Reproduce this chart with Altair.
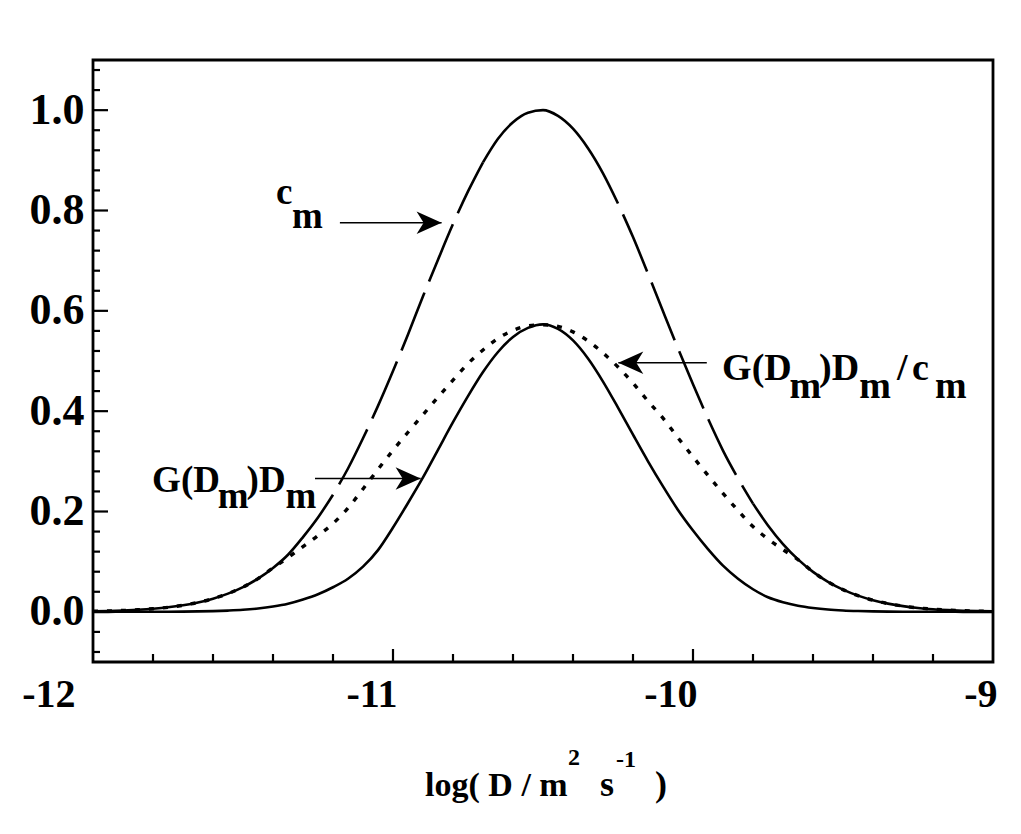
import altair as alt
import pandas as pd

# ---- data ----
x_vals = [-12.00, -11.95, -11.90, -11.85, -11.80, -11.75, -11.70, -11.65, -11.60, -11.55,
          -11.50, -11.45, -11.40, -11.35, -11.30, -11.25, -11.20, -11.15, -11.10, -11.05,
          -11.00, -10.95, -10.90, -10.85, -10.80, -10.75, -10.70, -10.65, -10.60, -10.55,
          -10.50, -10.45, -10.40, -10.35, -10.30, -10.25, -10.20, -10.15, -10.10, -10.05,
          -10.00, -9.95, -9.90, -9.85, -9.80, -9.75, -9.70, -9.65, -9.60, -9.55,
          -9.50, -9.45, -9.40, -9.35, -9.30, -9.25, -9.20, -9.15, -9.10, -9.05, -9.00]

c_m = [0.0011, 0.0017, 0.0027, 0.0042, 0.0062, 0.009, 0.0131, 0.0187, 0.0263, 0.0363,
       0.0494, 0.0662, 0.0875, 0.1138, 0.149, 0.188, 0.2335, 0.2857, 0.3459, 0.4105,
       0.480, 0.553, 0.629, 0.702, 0.773, 0.838, 0.896, 0.943, 0.976, 0.995,
       1.0, 0.9885, 0.963, 0.924, 0.874, 0.814, 0.747, 0.674, 0.599, 0.525,
       0.4535, 0.385, 0.3215, 0.2662, 0.2157, 0.1722, 0.135, 0.1045, 0.0797, 0.0598,
       0.0443, 0.0323, 0.0232, 0.0164, 0.0114, 0.0078, 0.0053, 0.0036, 0.0023, 0.0014, 0.0009]

g_dm = [0.0, 0.0, 0.0001, 0.0001, 0.0002, 0.0003, 0.0005, 0.0009, 0.0015, 0.0025,
        0.004, 0.0066, 0.0105, 0.016, 0.0245, 0.035, 0.049, 0.066, 0.090, 0.123,
        0.168, 0.217, 0.268, 0.323, 0.378, 0.43, 0.478, 0.518, 0.548, 0.566,
        0.573, 0.564, 0.541, 0.505, 0.459, 0.407, 0.353, 0.300, 0.250, 0.203,
        0.162, 0.125, 0.092, 0.066, 0.045, 0.029, 0.019, 0.012, 0.0075, 0.0045,
        0.0027, 0.0016, 0.0009, 0.0005, 0.0003, 0.0002, 0.0001, 0.0001, 0.0, 0.0, 0.0]

g_over_c = [0.0011, 0.0017, 0.0027, 0.0042, 0.0062, 0.009, 0.0131, 0.0187, 0.0263, 0.0363,
            0.0494, 0.0662, 0.0875, 0.108, 0.13, 0.152, 0.176, 0.207, 0.245, 0.284,
            0.322, 0.358, 0.393, 0.428, 0.462, 0.495, 0.522, 0.545, 0.561, 0.570,
            0.572, 0.569, 0.558, 0.54, 0.516, 0.488, 0.456, 0.42, 0.386, 0.347,
            0.309, 0.272, 0.236, 0.202, 0.170, 0.145, 0.124, 0.104, 0.0797, 0.0598,
            0.0443, 0.0323, 0.0232, 0.0164, 0.0114, 0.0078, 0.0053, 0.0036, 0.0023, 0.0014, 0.0009]

x_tick_labels = [-12, -11, -10, -9]
y_tick_labels = [0.0, 0.2, 0.4, 0.6, 0.8, 1.0]
x_major_ticks = [-11, -10]
x_minor_ticks = [-11.8, -11.6, -11.4, -11.2, -10.8, -10.6, -10.4, -10.2, -9.8, -9.6, -9.4, -9.2]
y_major_ticks = [0.2, 0.4, 0.6, 0.8, 1.0, 0.0]
y_minor_ticks = [-0.08, -0.04, 0.04, 0.08, 0.12, 0.16, 0.24, 0.28, 0.32, 0.36, 0.44, 0.48,
                 0.52, 0.56, 0.64, 0.68, 0.72, 0.76, 0.84, 0.88, 0.92, 0.96, 1.04, 1.08]

# annotation pieces (text, x, y, size)
ann_text = ["c", "m",
            "G(D", "m", ")D", "m",
            "G(D", "m", ")D", "m", "/", "c", "m",
            "log( D / m", "2", "s", "-1", ")"]
ann_x = [-11.39, -11.337,
         -11.803, -11.584, -11.488, -11.358,
         -9.903, -9.678, -9.58, -9.446, -9.32, -9.27, -9.193,
         -10.893, -10.417, -10.31, -10.257, -10.127]
ann_y = [0.812, 0.765,
         0.239, 0.207, 0.239, 0.207,
         0.462, 0.426, 0.462, 0.426, 0.462, 0.462, 0.426,
         -0.367, -0.305, -0.367, -0.31, -0.367]
ann_size = [37, 37,
            37, 37, 37, 37,
            38, 38, 38, 38, 38, 38, 38,
            34, 24, 36, 24, 36]

arrow_x_start = [-11.177, -11.26, -9.954]
arrow_x_end = [-10.838, -10.908, -10.249]
arrow_y = [0.7755, 0.266, 0.4966]
arrow_dir = ["right", "right", "left"]

# ---- chart ----
FONT = "Liberation Serif"
xs = alt.Scale(domain=[-12, -9], nice=False, zero=False)
ys = alt.Scale(domain=[-0.1, 1.1], nice=False, zero=False)

df = pd.DataFrame({"x": x_vals, "c": c_m, "g": g_dm, "r": g_over_c})

x_axis = alt.Axis(values=x_tick_labels, labelExpr="'' + datum.value", ticks=False, domain=False,
                  grid=False, labelFont=FONT, labelFontSize=40, labelFontWeight="bold",
                  labelColor="black", labelPadding=12, labelFlush=False, labelOverlap=False,
                  labelAlign="right",
                  labelOffset={"condition": {"test": "datum.value == -12", "value": -18},
                               "value": 4},
                  title=None)
y_axis = alt.Axis(values=y_tick_labels, format=".1f", ticks=False, domain=False, grid=False,
                  labelFont=FONT, labelFontSize=44, labelFontWeight="bold", labelColor="black",
                  labelPadding=9, labelOverlap=False, title=None)


def X(field):
    return alt.X(field, scale=xs, axis=x_axis)


def Y(field):
    return alt.Y(field, scale=ys, axis=y_axis)


inner = alt.Chart(df).mark_line(color="black", strokeWidth=2.6, interpolate="monotone").encode(
    x=X("x:Q"), y=Y("g:Q"))

dotted = alt.Chart(df).mark_line(color="black", strokeWidth=3.4, interpolate="monotone",
                                 strokeDash=[5, 9]).encode(x=X("x:Q"), y=Y("r:Q"))


def c_segment(lo, hi, dashed):
    kw = dict(color="black", strokeWidth=2.6, interpolate="monotone")
    if dashed:
        kw.update(strokeDash=[62, 12], strokeDashOffset=62)
    return alt.Chart(df).transform_filter(
        f"datum.x >= {lo} - 0.001 && datum.x <= {hi} + 0.001"
    ).mark_line(**kw).encode(x=X("x:Q"), y=Y("c:Q"))


c_layers = [
    c_segment(-12.0, -11.2, False),
    c_segment(-11.2, -10.7, True),
    c_segment(-10.7, -10.25, False),
    c_segment(-10.25, -9.8, True),
    c_segment(-9.8, -9.0, False),
]

y_major = alt.Chart(pd.DataFrame({"v": y_major_ticks})).mark_rule(color="black", strokeWidth=2.2).encode(
    y=Y("v:Q"), x=alt.value(0), x2=alt.value(15))
y_minor = alt.Chart(pd.DataFrame({"v": y_minor_ticks})).mark_rule(color="black", strokeWidth=2.2).encode(
    y=Y("v:Q"), x=alt.value(0), x2=alt.value(7))
x_major = alt.Chart(pd.DataFrame({"v": x_major_ticks})).mark_rule(color="black", strokeWidth=2.2).encode(
    x=X("v:Q"), y=alt.value(602), y2=alt.value(589))
x_minor = alt.Chart(pd.DataFrame({"v": x_minor_ticks})).mark_rule(color="black", strokeWidth=2.2).encode(
    x=X("v:Q"), y=alt.value(602), y2=alt.value(594))

ann_df = pd.DataFrame({"text": ann_text, "x": ann_x, "y": ann_y, "size": ann_size})
texts = alt.Chart(ann_df).mark_text(align="left", baseline="alphabetic", font=FONT,
                                    fontWeight="bold", color="black").encode(
    x=X("x:Q"), y=Y("y:Q"),
    text="text:N",
    size=alt.Size("size:Q", scale=None, legend=None),
)

arr_df = pd.DataFrame({"x": arrow_x_start, "x2": arrow_x_end, "y": arrow_y, "dir": arrow_dir})
arrow_lines = alt.Chart(arr_df).mark_rule(color="black", strokeWidth=1.5).encode(
    x=X("x:Q"), x2="x2:Q", y=Y("y:Q"))
head_right = alt.Chart(arr_df).transform_filter("datum.dir == 'right'").mark_point(
    shape="M0,0L-1,-0.45L-0.72,0L-1,0.45Z", filled=True, color="black", opacity=1,
    size=2500, strokeWidth=0).encode(x=X("x2:Q"), y=Y("y:Q"))
head_left = alt.Chart(arr_df).transform_filter("datum.dir == 'left'").mark_point(
    shape="M0,0L1,-0.45L0.72,0L1,0.45Z", filled=True, color="black", opacity=1,
    size=2500, strokeWidth=0).encode(x=X("x2:Q"), y=Y("y:Q"))

chart = alt.layer(
    inner, dotted, *c_layers, y_major, y_minor, x_major, x_minor,
    arrow_lines, head_right, head_left, texts
).properties(
    width=900, height=602,
    autosize=alt.AutoSizeParams(type="none"),
    padding={"left": 93, "top": 60, "right": 28, "bottom": 172},
    background="white",
).configure_view(stroke="black", strokeWidth=2.8)

chart.save("out.html", embed_options={"renderer": "svg", "actions": False})
